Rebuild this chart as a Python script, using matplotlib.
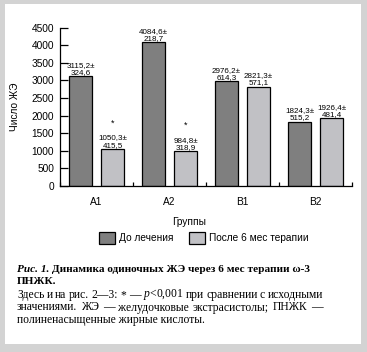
import matplotlib
matplotlib.use("Agg")
import matplotlib.pyplot as plt
from matplotlib import font_manager
from matplotlib.patches import Rectangle
import numpy as np

groups = ["A1", "A2", "B1", "B2"]
before = [3115.2, 4084.6, 2976.2, 1824.3]
before_sd = [324.6, 218.7, 614.3, 515.2]
after = [1050.3, 984.8, 2821.3, 1926.4]
after_sd = [415.5, 318.9, 571.1, 481.4]
significant = [True, True, False, False]
yticks = [0, 500, 1000, 1500, 2000, 2500, 3000, 3500, 4000, 4500]
legend_labels = ["До лечения", "После 6 мес терапии"]
ylabel = "Число ЖЭ"
xlabel = "Группы"

def has_font(name):
    try:
        font_manager.findfont(font_manager.FontProperties(family=name), fallback_to_default=False)
        return True
    except Exception:
        return False

SANS = "Liberation Sans"
NARROW = "Liberation Sans Narrow" if has_font("Liberation Sans Narrow") else SANS
SERIF = "Liberation Serif"

plt.rcParams["font.family"] = [SANS, "DejaVu Sans"]
plt.rcParams["mathtext.fontset"] = "custom"
plt.rcParams["mathtext.rm"] = SERIF
plt.rcParams["mathtext.it"] = SERIF + ":italic"
plt.rcParams["mathtext.bf"] = SERIF + ":bold"

W, H = 367, 352
fig = plt.figure(figsize=(W / 100, H / 100), dpi=100)
fig.patch.set_facecolor("#d3d3d3")
fig.patches.append(Rectangle((5 / W, 1 - 344 / H), (361 - 5) / W, (344 - 4) / H,
                             transform=fig.transFigure, facecolor="white", edgecolor="none", zorder=-5))

ax = fig.add_axes([60 / W, 1 - 186 / H, 292 / W, (186 - 27.7) / H])
ax.set_facecolor("none")
ax.set_zorder(2)

DARK = "#7f7f7f"
LIGHT = "#c1c1c5"
x = np.arange(len(groups))
off = 0.219
bw = 0.322
b1 = ax.bar(x - off, before, bw, color=DARK, edgecolor="black", linewidth=0.9, label=legend_labels[0])
b2 = ax.bar(x + off, after, bw, color=LIGHT, edgecolor="black", linewidth=0.9, label=legend_labels[1])

def fmt(v):
    return f"{v:.1f}".replace(".", ",")

AFS = 5.8 if NARROW == SANS else 6.4
for xi, v, s in zip(x - off, before, before_sd):
    ax.annotate(fmt(v) + "±\n" + fmt(s), (xi, v), xytext=(0, 0.3), textcoords="offset points",
                ha="center", va="bottom", fontsize=AFS, family=NARROW, linespacing=1.05,
                annotation_clip=False)
for xi, v, s, sig in zip(x + off, after, after_sd, significant):
    ax.annotate(fmt(v) + "±\n" + fmt(s), (xi, v), xytext=(0, 0.3), textcoords="offset points",
                ha="center", va="bottom", fontsize=AFS, family=NARROW, linespacing=1.05,
                annotation_clip=False)
    if sig:
        ax.annotate("*", (xi, v), xytext=(0, 15.5), textcoords="offset points",
                    ha="center", va="bottom", fontsize=6.5, family=SANS)

ax.set_xlim(-0.5, len(groups) - 0.5)
ax.set_ylim(0, 4500)
ax.set_yticks(yticks)
ax.set_yticklabels([str(t) for t in yticks])
ax.set_xticks(x)
ax.set_xticklabels(groups)
ax.set_xticks(np.arange(-0.5, len(groups)), minor=True)
ax.tick_params(axis="x", which="major", length=0, pad=8, labelsize=7.3)
ax.tick_params(axis="x", which="minor", direction="in", length=3, width=0.9)
ax.tick_params(axis="y", direction="in", length=5.5, width=0.9, pad=4.3, labelsize=7.3)
for sp in ["top", "right"]:
    ax.spines[sp].set_visible(False)
for sp in ["left", "bottom"]:
    ax.spines[sp].set_linewidth(0.9)

ax.set_ylabel(ylabel, fontsize=7.3)
ax.yaxis.set_label_coords((20 - 60) / 292, 0.5)
ax.set_xlabel(xlabel, fontsize=7.3)
ax.xaxis.set_label_coords((189 - 60) / 292, (186 - 217) / (186 - 27.7))

leg = fig.legend(handles=[b1, b2], labels=legend_labels, loc="center",
                 bbox_to_anchor=(204 / W, 1 - 238 / H), ncol=2, frameon=False,
                 fontsize=7.3, handlelength=1.55, handleheight=1.4, handletextpad=0.45,
                 columnspacing=1.5, borderpad=0)

# caption
cs = 8.4
ts = 8.1
renderer = fig.canvas.get_renderer()
X0, X1 = 17, 323

def justified(words, ypix, size, width=None, **kw):
    items = []
    total = 0
    for w in words:
        t = fig.text(0, 1 - ypix / H, w, family=SERIF, fontsize=size, va="center", ha="left", **kw)
        wd = t.get_window_extent(renderer).width
        items.append((t, wd))
        total += wd
    gap = (width - total) / (len(words) - 1)
    xp = X0
    for t, wd in items:
        t.set_x(xp / W)
        xp += wd + gap

t1 = fig.text(X0 / W, 1 - 269 / H, "Рис. 1.", family=SERIF, weight="bold", style="italic",
              fontsize=ts, va="center", ha="left")
a1 = fig.text(0, 1 - 269 / H, " Динамика одиночных ЖЭ через 6 мес терапии ω-3", family=SERIF,
              weight="bold", fontsize=ts, va="center", ha="left")
a1.set_x((X0 + t1.get_window_extent(renderer).width) / W)
fig.text(X0 / W, 1 - 282 / H, "ПНЖК.", family=SERIF, weight="bold", fontsize=ts,
         va="center", ha="left")
justified("Здесь и на рис. 2—3: * — $p$<0,001 при сравнении с исходными".split(" "),
          295, cs, width=X1 - X0)
justified("значениями. ЖЭ — желудочковые экстрасистолы; ПНЖК —".split(" "),
          307.5, cs, width=X1 - X0)
fig.text(X0 / W, 1 - 320 / H, "полиненасыщенные жирные кислоты.",
         family=SERIF, fontsize=cs, va="center", ha="left")

fig.savefig("out.png", dpi=100, facecolor=fig.get_facecolor())
